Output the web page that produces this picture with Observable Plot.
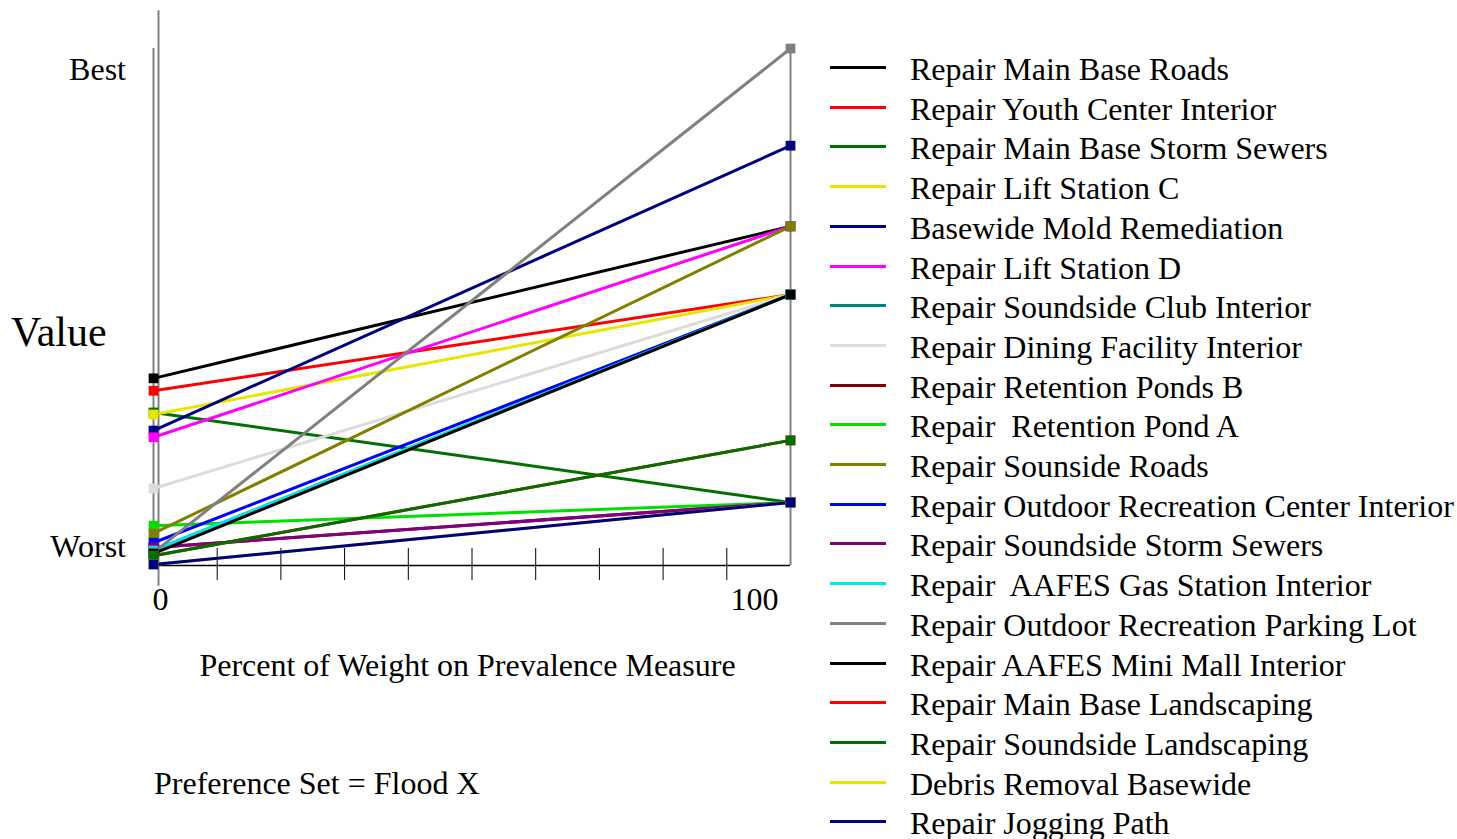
<!DOCTYPE html>
<html>
<head>
<meta charset="utf-8">
<script src="https://cdn.jsdelivr.net/npm/d3@7"></script>
<script src="https://cdn.jsdelivr.net/npm/@observablehq/plot@0.6"></script>
<style>
  html, body { margin: 0; padding: 0; background: #fff; }
  #wrap { position: relative; width: 1457px; height: 839px; overflow: hidden; font-family: "Liberation Serif", "Times New Roman", serif; color: #000; }
  #chart { position: absolute; left: 0; top: 0; }
  .lbl { position: absolute; font-size: 32px; line-height: 32px; white-space: nowrap; }
  .leg { position: absolute; left: 830px; height: 32px; width: 620px; }
  .leg .sw { position: absolute; left: 0; top: 13px; width: 56px; height: 3px; }
  .leg .tx { position: absolute; left: 80px; top: 0; font-size: 32px; line-height: 32px; white-space: pre; }
</style>
</head>
<body>
<div id="wrap">
  <div id="chart"></div>
</div>
<script>
// ---- data ----
const alternatives = [
  "Repair Main Base Roads",
  "Repair Youth Center Interior",
  "Repair Main Base Storm Sewers",
  "Repair Lift Station C",
  "Basewide Mold Remediation",
  "Repair Lift Station D",
  "Repair Soundside Club Interior",
  "Repair Dining Facility Interior",
  "Repair Retention Ponds B",
  "Repair  Retention Pond A",
  "Repair Sounside Roads",
  "Repair Outdoor Recreation Center Interior",
  "Repair Soundside Storm Sewers",
  "Repair  AAFES Gas Station Interior",
  "Repair Outdoor Recreation Parking Lot",
  "Repair AAFES Mini Mall Interior",
  "Repair Main Base Landscaping",
  "Repair Soundside Landscaping",
  "Debris Removal Basewide",
  "Repair Jogging Path"
];
const colors = [
  "#000000", "#ff0000", "#007000", "#e6e600", "#000080",
  "#ff00ff", "#008080", "#dcdcdc", "#800000", "#00e000",
  "#808000", "#0000ff", "#800080", "#00e6e6", "#808080",
  "#000000", "#ff0000", "#007000", "#e6e600", "#000080"
];
// value at 0% weight and at 100% weight on prevalence measure (0 = worst, 1 = best)
const valueAt0 = [
  0.362, 0.338, 0.296, 0.292, 0.261,
  0.248, 0.029, 0.149, 0.035, 0.077,
  0.062, 0.044, 0.035, 0.029, 0.025,
  0.023, 0.019, 0.019, 0.002, 0.002
];
const valueAt100 = [
  0.656, 0.524, 0.122, 0.524, 0.812,
  0.656, 0.524, 0.524, 0.122, 0.122,
  0.656, 0.524, 0.122, 0.524, 1.000,
  0.524, 0.242, 0.242, 0.122, 0.122
];
const weights = [0, 100];
const minorTicks = [10, 20, 30, 40, 50, 60, 70, 80, 90];
const yLabels = ["Best", "Worst"];
const yTitle = "Value";
const xTitle = "Percent of Weight on Prevalence Measure";
const caption = "Preference Set = Flood X";

// ---- table ----
const rows = [];
alternatives.forEach((name, i) => {
  rows.push({name, i, color: colors[i], x: weights[0], v: valueAt0[i]});
  rows.push({name, i, color: colors[i], x: weights[1], v: valueAt100[i]});
});

const font = "Liberation Serif, Times New Roman, serif";
const plot = Plot.plot({
  width: 1457,
  height: 839,
  marginLeft: 153,
  marginRight: 667,
  marginTop: 48,
  marginBottom: 274,
  style: {fontFamily: font, fontSize: "32px", color: "#000", background: "transparent", overflow: "visible"},
  x: {domain: [0, 100], axis: null},
  y: {domain: [0, 1], axis: null},
  marks: [
    Plot.ruleX([0], {dx: 5, y1: -0.04, y2: 1.073, stroke: "#808080", strokeWidth: 2}),
    Plot.ruleX([0, 100], {y1: 0, y2: 1, stroke: "#808080", strokeWidth: 2}),
    Plot.ruleY([0], {x1: 0, x2: 100, stroke: "#000", strokeWidth: 1.5}),
    Plot.ruleX(minorTicks, {y1: -0.029, y2: 0.033, stroke: "#000", strokeWidth: 1}),
    Plot.axisX([0], {tickSize: 0, tickPadding: 22, dx: 7, fontSize: 32, fill: "#000", label: null}),
    Plot.axisX([100], {tickSize: 0, tickPadding: 22, dx: -36, fontSize: 32, fill: "#000", label: null}),
    Plot.line(rows, {x: "x", y: "v", z: "name", stroke: "color", strokeWidth: 3}),
    Plot.dot(rows, {x: "x", y: "v", symbol: "square", fill: "color", r: 5.5})
  ]
});
document.getElementById("chart").appendChild(plot);

// ---- text labels ----
const wrap = document.getElementById("wrap");
function addLabel(text, left, top, extra) {
  const d = document.createElement("div");
  d.className = "lbl";
  d.textContent = text;
  d.style.left = left + "px";
  d.style.top = top + "px";
  if (extra) Object.assign(d.style, extra);
  wrap.appendChild(d);
  return d;
}
addLabel(yLabels[0], 0, 53, {width: "126px", textAlign: "right"});
addLabel(yLabels[1], 0, 530, {width: "126px", textAlign: "right"});
addLabel(yTitle, 11, 311, {fontSize: "42px", lineHeight: "42px"});
addLabel(xTitle, 0, 649, {width: "935px", textAlign: "center"});
addLabel(caption, 154, 767);

// ---- legend ----
alternatives.forEach((name, i) => {
  const row = document.createElement("div");
  row.className = "leg";
  row.style.top = (53 + i * 39.7) + "px";
  const sw = document.createElement("div");
  sw.className = "sw";
  sw.style.background = colors[i];
  const tx = document.createElement("div");
  tx.className = "tx";
  tx.textContent = name;
  row.appendChild(sw);
  row.appendChild(tx);
  wrap.appendChild(row);
});
</script>
</body>
</html>
